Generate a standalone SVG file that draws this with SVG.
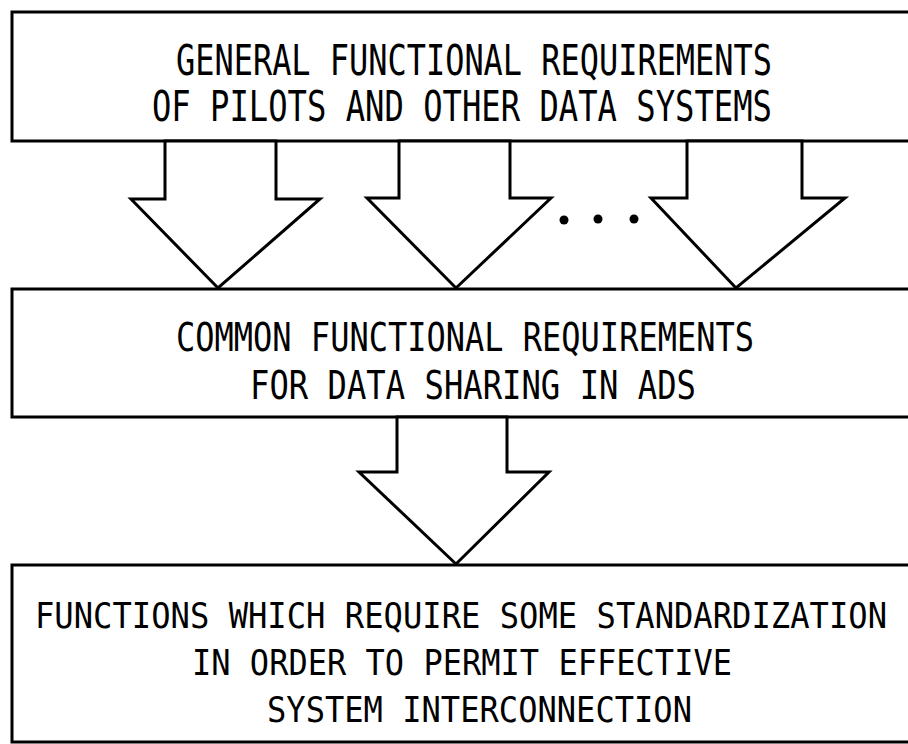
<svg xmlns="http://www.w3.org/2000/svg" width="908" height="744" viewBox="0 0 908 744">
  <style>
    .box { fill: #ffffff; stroke: #000000; stroke-width: 3; }
    .arrow { fill: #ffffff; stroke: #000000; stroke-width: 3; stroke-linejoin: miter; }
    .t { font-family: "DejaVu Sans Mono", "Liberation Mono", monospace; font-size: 32px; fill: #000000; }
  </style>
  <rect width="908" height="744" fill="#ffffff"/>
  <g id="node-general">
    <path class="box" d="M 910 12 H 12 V 141 H 910"/>
    <text class="t" transform="translate(176,75) scale(1,1.31)" x="0" y="0" textLength="596" lengthAdjust="spacingAndGlyphs">GENERAL FUNCTIONAL REQUIREMENTS</text>
    <text class="t" transform="translate(152,121) scale(1,1.31)" x="0" y="0" textLength="620" lengthAdjust="spacingAndGlyphs">OF PILOTS AND OTHER DATA SYSTEMS</text>
  </g>
  <g id="node-common">
    <path class="box" d="M 910 289 H 12 V 417 H 910"/>
    <text class="t" transform="translate(176,351) scale(1,1.22)" x="0" y="0" textLength="578" lengthAdjust="spacingAndGlyphs">COMMON FUNCTIONAL REQUIREMENTS</text>
    <text class="t" transform="translate(250,399) scale(1,1.22)" x="0" y="0" textLength="446" lengthAdjust="spacingAndGlyphs">FOR DATA SHARING IN ADS</text>
  </g>
  <g id="node-functions">
    <path class="box" d="M 910 565 H 12 V 742 H 910"/>
    <text class="t" transform="translate(35,628) scale(1,1.125)" x="0" y="0" textLength="852" lengthAdjust="spacingAndGlyphs">FUNCTIONS WHICH REQUIRE SOME STANDARDIZATION</text>
    <text class="t" transform="translate(192,675) scale(1,1.125)" x="0" y="0" textLength="540" lengthAdjust="spacingAndGlyphs">IN ORDER TO PERMIT EFFECTIVE</text>
    <text class="t" transform="translate(267,722) scale(1,1.125)" x="0" y="0" textLength="425" lengthAdjust="spacingAndGlyphs">SYSTEM INTERCONNECTION</text>
  </g>
  <g id="connectors">
    <polygon class="arrow" points="165,141 276,141 276,199 320,199 218,288 131,199 165,199"/>
    <polygon class="arrow" points="399,141 510,141 510,198 551,198 456,288 367,198 399,198"/>
    <polygon class="arrow" points="687,141 802,141 802,198 845,198 736,288 651,198 687,198"/>
    <circle cx="564" cy="220" r="4.5" fill="#000000"/>
    <circle cx="598" cy="219" r="4.5" fill="#000000"/>
    <circle cx="634" cy="219" r="4.5" fill="#000000"/>
    <polygon class="arrow" points="397,417 507,417 507,472 549,472 456,564 359,472 397,472"/>
  </g>
</svg>
